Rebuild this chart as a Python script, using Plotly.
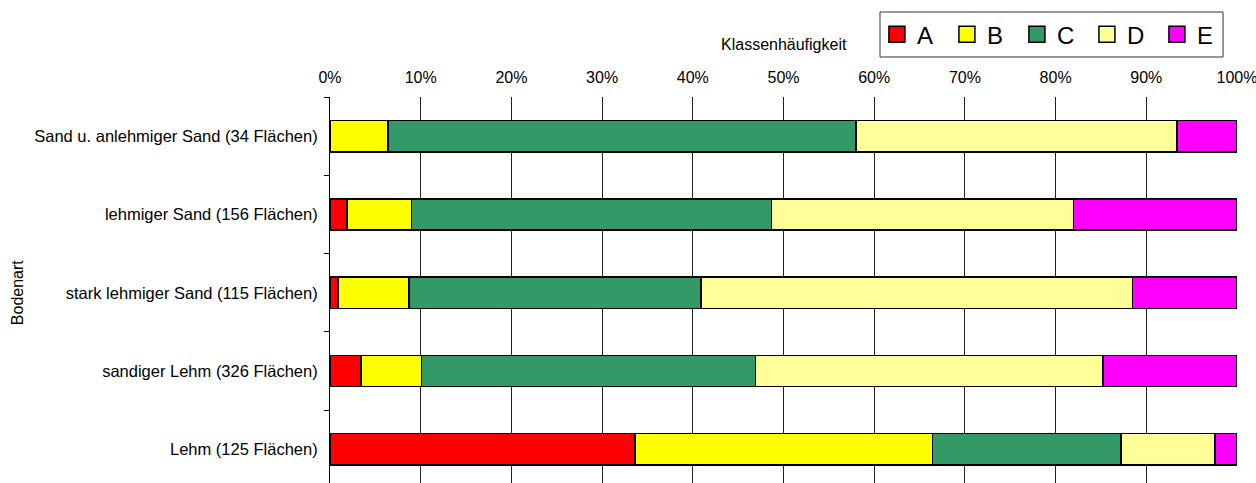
import plotly.graph_objects as go

# Bodenarten (top to bottom) and class shares in percent
categories = [
    "Sand u. anlehmiger Sand (34 Flächen)",
    "lehmiger Sand (156 Flächen)",
    "stark lehmiger Sand (115 Flächen)",
    "sandiger Lehm (326 Flächen)",
    "Lehm (125 Flächen)",
]
class_names = ["A", "B", "C", "D", "E"]
share_A = [0.0, 1.9, 0.9, 3.4, 33.6]
share_B = [6.4, 7.1, 7.8, 6.7, 32.8]
share_C = [51.6, 39.7, 32.2, 36.8, 20.8]
share_D = [35.4, 33.3, 47.6, 38.3, 10.4]
share_E = [6.6, 18.0, 11.5, 14.8, 2.4]
x_tick_values = [0, 10, 20, 30, 40, 50, 60, 70, 80, 90, 100]
x_tick_labels = ["0%", "10%", "20%", "30%", "40%", "50%",
                 "60%", "70%", "80%", "90%", "100%"]

shares = [share_A, share_B, share_C, share_D, share_E]
colors = ["#FF0000", "#FFFF00", "#339966", "#FFFF99", "#FF00FF"]

FONT = "Liberation Sans, Arial, sans-serif"

fig = go.Figure()
for name, vals, col in zip(class_names, shares, colors):
    fig.add_trace(go.Bar(
        y=categories, x=vals, name=name, orientation="h",
        marker=dict(color=col, line=dict(color="black", width=1.5)),
        showlegend=False,
    ))
    # legend entry with a larger square swatch
    fig.add_trace(go.Scatter(
        x=[None], y=[None], mode="markers", name=name,
        marker=dict(symbol="square", size=16, color=col,
                    line=dict(color="black", width=1.5)),
        showlegend=True,
    ))

fig.update_layout(
    width=1256, height=483,
    margin=dict(l=330, r=19, t=97, b=0),
    barmode="stack", bargap=0.6,
    plot_bgcolor="white", paper_bgcolor="white",
    font=dict(family=FONT, size=16, color="black"),
    legend=dict(
        orientation="h", traceorder="normal",
        x=0.603, y=1.22, xanchor="left", yanchor="top",
        borderwidth=0, bgcolor="rgba(0,0,0,0)",
        font=dict(size=24), entrywidth=25, entrywidthmode="pixels",
        itemclick=False,
    ),
    xaxis=dict(
        range=[0, 100], side="top",
        tickvals=x_tick_values, ticktext=x_tick_labels,
        showgrid=True, gridcolor="#222222", gridwidth=1,
        zeroline=False, showline=False, ticks="",
        ticklabelstandoff=10, tickfont=dict(size=16),
        ticklabeloverflow="allow",
    ),
    yaxis=dict(
        type="category", categoryorder="array", categoryarray=categories,
        range=[4.43, -0.5],
        showline=True, linecolor="black", linewidth=1,
        ticks="outside", tickson="boundaries", ticklen=5, tickcolor="black",
        showgrid=False, zeroline=False, tickfont=dict(size=16.5),
        ticklabelstandoff=8,
    ),
    shapes=[
        # frame around the legend
        dict(type="rect", xref="paper", yref="paper",
             x0=0.6064, x1=0.9846, y0=1.1036, y1=1.2202,
             line=dict(color="#333333", width=1), fillcolor="white",
             layer="below"),
    ],
    annotations=[
        dict(text="Klassenhäufigkeit", xref="paper", yref="paper",
             x=0.5, y=1.135, xanchor="center", yanchor="middle",
             showarrow=False, font=dict(size=16)),
        dict(text="Bodenart", xref="paper", yref="paper",
             x=-0.345, y=0.492, xanchor="center", yanchor="middle",
             textangle=-90, showarrow=False, font=dict(size=16)),
    ],
)

fig.write_html("out.html")
